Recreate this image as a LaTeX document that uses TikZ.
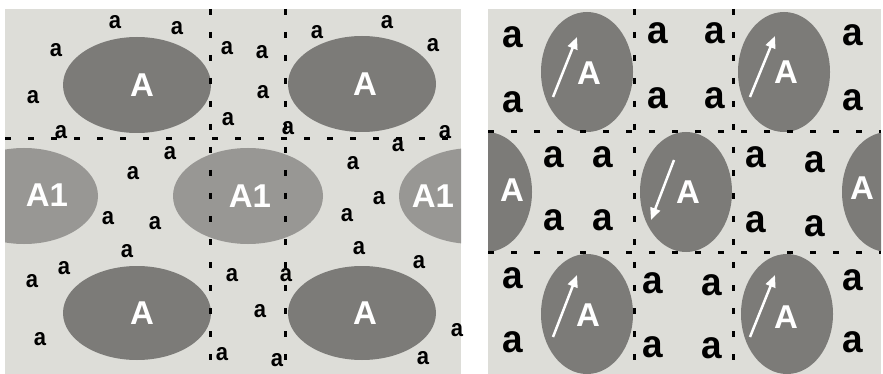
\documentclass[tikz,border=0pt]{standalone}
\usepackage{fontspec}
\setmainfont{Liberation Sans}
\usetikzlibrary{arrows.meta}

\definecolor{bgray}{RGB}{221,221,216}
\definecolor{dgray}{RGB}{124,123,120}
\definecolor{lgray}{RGB}{152,151,148}

\begin{document}
\begin{tikzpicture}[x=1pt, y=-1pt,
    cutline/.style={line width=3pt, dash pattern=on 6pt off 17pt},
    sa/.style={font=\bfseries\fontsize{22}{22}\selectfont, inner sep=0pt, yscale=1.1},
    ba/.style={font=\bfseries\fontsize{37}{37}\selectfont, inner sep=0pt, yscale=1.05},
    bigA/.style={white, font=\bfseries\fontsize{33}{33}\selectfont, inner sep=0pt},
    warrow/.style={white, line width=2.5pt, -{Triangle[width=10pt,length=12pt]}}]
    \useasboundingbox (0,0) rectangle (883,374);

    % 左图: 背景与椭圆
    \fill[bgray] (5,9) rectangle (461,374);
    \begin{scope}
        \clip (5,9) rectangle (461,374);
        \fill[dgray] (137,85) ellipse [x radius=74, y radius=48];
        \fill[dgray] (362,84) ellipse [x radius=74, y radius=48];
        \fill[lgray] (24,196) ellipse [x radius=74, y radius=48];
        \fill[lgray] (248,196) ellipse [x radius=75, y radius=48];
        \fill[lgray] (473,196) ellipse [x radius=74, y radius=48];
        \fill[dgray] (137,313) ellipse [x radius=74, y radius=47];
        \fill[dgray] (362,313) ellipse [x radius=74, y radius=47];
    \end{scope}
    \node[bigA] (LA1) at (142,85) {A};
    \node[bigA] (LA2) at (365,84) {A};
    \node[bigA] (LB1) at (47,195) {A1};
    \node[bigA] (LB2) at (250,196) {A1};
    \node[bigA] (LB3) at (433,196) {A1};
    \node[bigA] (LA3) at (142,313) {A};
    \node[bigA] (LA4) at (365,313) {A};

    % 左图: 小原子 a
    \foreach \x/\y [count=\i] in {115/22, 177/28, 56/50, 227/48, 262/52, 317/32,
            387/22, 433/45, 33/97, 263/92, 228/119, 61/132, 288/128, 398/145,
            445/132, 170/153, 133/173, 353/163, 108/218, 155/223, 127/251,
            379/198, 347/215, 359/248, 64/268, 32/281, 232/275, 286/275,
            419/262, 260/311, 457/330, 40/339, 222/354, 277/360, 423/358}
        \node[sa] (la\i) at (\x,\y) {a};

    % 左图: 虚线分界
    \draw[cutline] (5,139) -- (461,139);
    \draw[cutline] (210,9) -- (210,374);
    \draw[cutline] (285,9) -- (285,374);

    % 右图: 背景与椭圆
    \fill[bgray] (488,9) rectangle (881,374);
    \begin{scope}
        \clip (488,9) rectangle (881,374);
        \foreach \x/\y in {587/72, 784/72, 486/192, 686/192, 888/192, 587/314, 787/314}
            \fill[dgray] (\x,\y) ellipse [x radius=46, y radius=60];
    \end{scope}

    % 右图: 方向箭头
    \draw[warrow] (553,97) -- (577,37);
    \draw[warrow] (750,97) -- (775,36);
    \draw[warrow] (674,160) -- (651,220);
    \draw[warrow] (553,337) -- (577,275);
    \draw[warrow] (750,337) -- (775,275);

    \node[bigA] (RA1) at (589,73) {A};
    \node[bigA] (RA2) at (786,72) {A};
    \node[bigA] (RA3) at (512,190) {A};
    \node[bigA] (RA4) at (688,192) {A};
    \node[bigA] (RA5) at (862,188) {A};
    \node[bigA] (RA6) at (588,315) {A};
    \node[bigA] (RA7) at (786,317) {A};

    % 右图: 小原子 a
    \foreach \x/\y [count=\i] in {513/37, 513/102, 658/33, 658/98, 715/33, 715/98,
            853/35, 853/100, 554/157, 603/157, 554/220, 603/220, 756/157,
            815/162, 756/222, 815/226, 513/278, 513/342, 653/283, 653/347,
            712/285, 712/348, 853/280, 853/342}
        \node[ba] (ra\i) at (\x,\y) {a};

    % 右图: 虚线分界
    \draw[cutline] (488,132) -- (881,132);
    \draw[cutline] (488,252) -- (881,252);
    \draw[cutline] (634,9) -- (634,374);
    \draw[cutline] (733,9) -- (733,374);
\end{tikzpicture}
\end{document}
